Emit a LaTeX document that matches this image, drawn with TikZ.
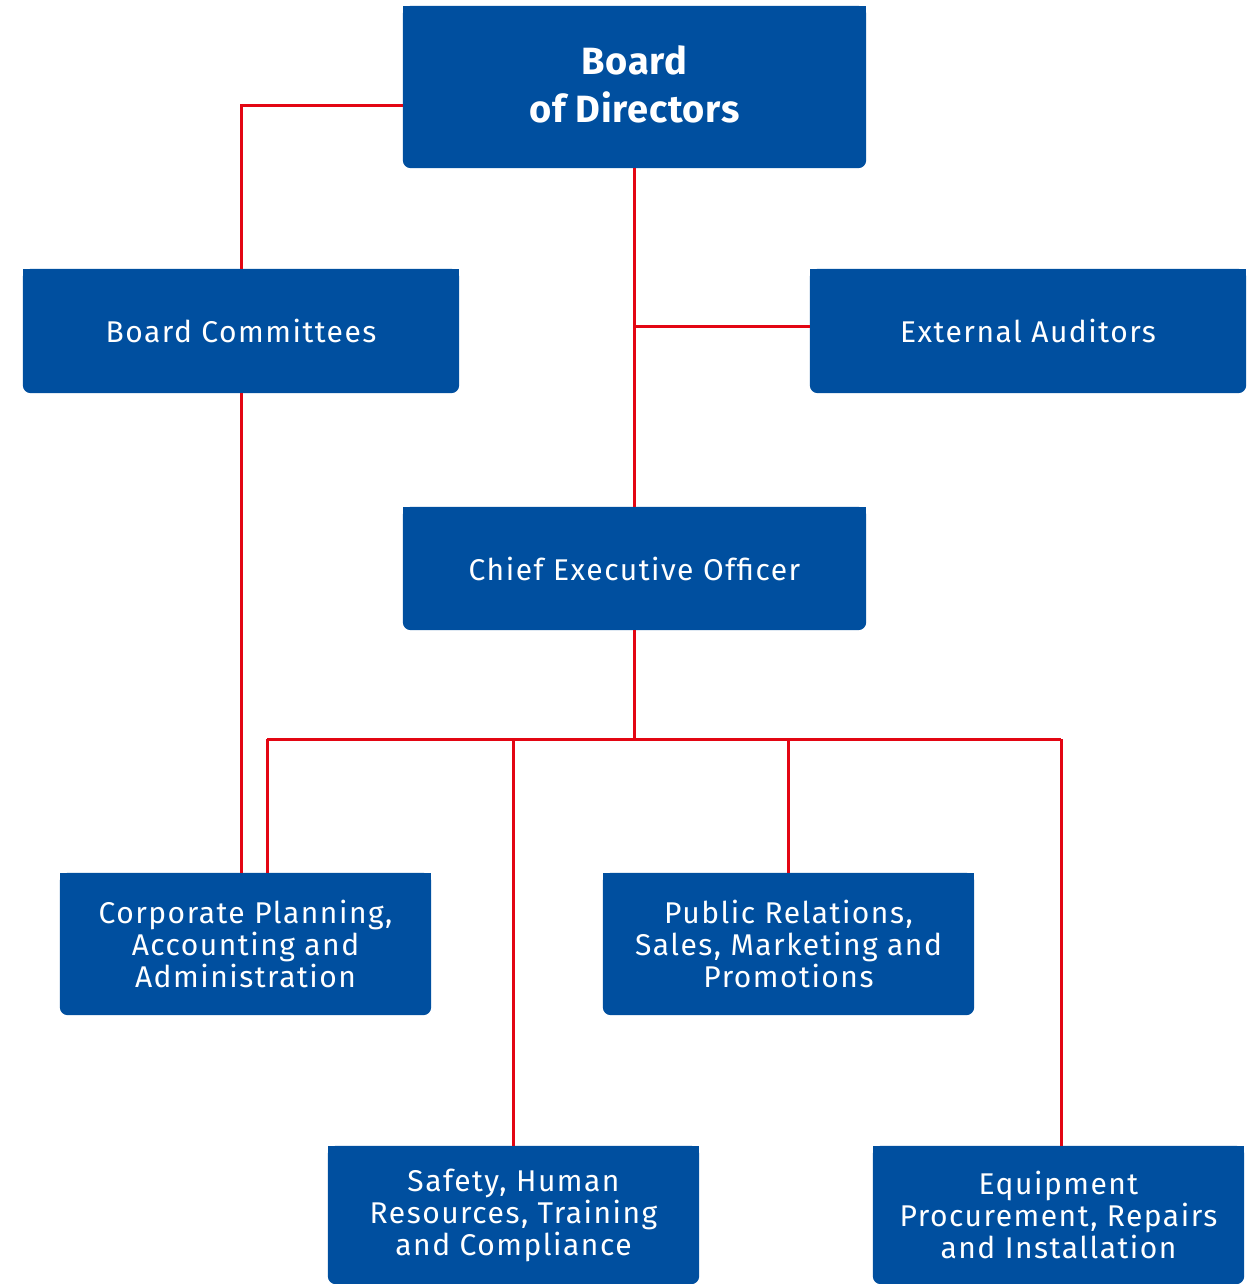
\documentclass[tikz,border=0pt]{standalone}
\usepackage{fontspec}
\setmainfont{Fira Sans}
\newfontfamily\dinfont[LetterSpace=5]{Fira Sans}
\newfontfamily\dinbold[LetterSpace=2]{Fira Sans Bold}
\usetikzlibrary{backgrounds}
\definecolor{boxblue}{RGB}{0,79,159}
\definecolor{linered}{RGB}{227,6,19}
\tikzset{
  orgbox/.style={inner sep=0pt, text=white, align=center,
    font=\dinfont\fontsize{30}{32}\selectfont},
  conn/.style={draw=linered, line width=3pt},
}
\newcommand\boxbg[1]{%
  \fill[boxblue, rounded corners=8pt] (#1.north west) rectangle (#1.south east);
  \fill[boxblue] (#1.north west) rectangle (#1.east);}
\begin{document}
\begin{tikzpicture}[x=1pt,y=-1pt]
\useasboundingbox (0,0) rectangle (1258,1284);
\node[orgbox, minimum width=463pt, minimum height=162pt] (bod) at (634.5,87) {};
\node[orgbox, font=\dinbold\fontsize{38}{48}\selectfont] (bodt) at (634.5,84) {Board\\of Directors};
\node[orgbox, minimum width=436pt, minimum height=124pt] (bc) at (241,331) {Board Committees};
\node[orgbox, minimum width=436pt, minimum height=124pt] (ea) at (1028,331) {External Auditors};
\node[orgbox, minimum width=463pt, minimum height=123pt] (ceo) at (634.5,568.5) {Chief Executive Officer};
\node[orgbox, minimum width=371pt, minimum height=142pt] (cp) at (245.5,944) {Corporate Planning,\\Accounting and\\Administration};
\node[orgbox, minimum width=371pt, minimum height=142pt] (pr) at (788.5,944) {Public Relations,\\Sales, Marketing and\\Promotions};
\node[orgbox, minimum width=371pt, minimum height=138pt] (sf) at (513.5,1215) {Safety, Human\\Resources, Training\\and Compliance};
\node[orgbox, minimum width=371pt, minimum height=138pt] (eq) at (1058.5,1215) {Equipment\\Procurement, Repairs\\and Installation};
\begin{scope}[on background layer]
\boxbg{bod}\boxbg{bc}\boxbg{ea}\boxbg{ceo}\boxbg{cp}\boxbg{pr}\boxbg{sf}\boxbg{eq}
\end{scope}
\coordinate (j1) at (634.5,326);
\coordinate (bus) at (634.5,739);
\coordinate (busL) at (267,739);
\coordinate (busR) at (1061,739);
\draw[conn] (bod.west) ++(0,19) -| (bc.north);
\draw[conn] (bod.south) -- (ceo.north);
\draw[conn] (j1) -- (ea.west |- j1);
\draw[conn] (bc.south) -- (bc.south |- cp.north);
\draw[conn] (ceo.south) -- (bus);
\draw[conn] (busL) -- (busR);
\draw[conn] (busL) -- (busL |- cp.north);
\draw[conn] (sf.north |- bus) -- (sf.north);
\draw[conn] (pr.north |- bus) -- (pr.north);
\draw[conn] (busR) -- (busR |- eq.north);
\end{tikzpicture}
\end{document}
